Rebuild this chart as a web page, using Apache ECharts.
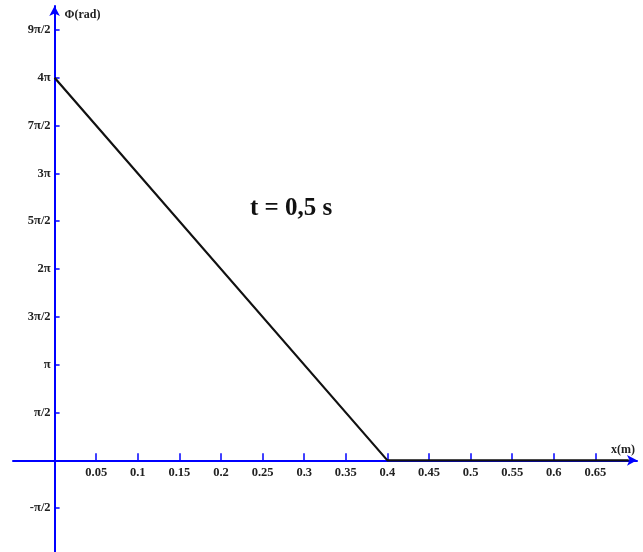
<!DOCTYPE html>
<html>
<head>
<meta charset="utf-8">
<script src="https://cdn.jsdelivr.net/npm/echarts@6/dist/echarts.min.js"></script>
<style>html,body{margin:0;padding:0;background:#fff}#c{width:643px;height:552px}</style>
</head>
<body>
<div id="c"></div>
<script>
// Data
var xValues = [0, 0.4, 0.69];          // x (m)
var phiInPi = [4, 0, 0];                // Φ in units of π
var xTicks = [0.05, 0.1, 0.15, 0.2, 0.25, 0.3, 0.35, 0.4, 0.45, 0.5, 0.55, 0.6, 0.65];
var xTickLabels = ['0.05','0.1','0.15','0.2','0.25','0.3','0.35','0.4','0.45','0.5','0.55','0.6','0.65'];
var yTicksHalfPi = [-1, 1, 2, 3, 4, 5, 6, 7, 8, 9];
var yTickLabels = ['-π/2','π/2','π','3π/2','2π','5π/2','3π','7π/2','4π','9π/2'];
var annotation = 't = 0,5 s';

var HALF = Math.PI / 2;
var yTickValues = yTicksHalfPi.map(function (k) { return k * HALF; });
var lineData = xValues.map(function (x, i) { return [x, phiInPi[i] * Math.PI]; });

// layout
var W = 643, H = 552;
var gL = 13, gR = 6, gT = 6, gB = -4;
var xMin = -0.05, xMax = 0.7, yMin = -Math.PI, yMax = 4.75 * Math.PI;
var gW = W - gL - gR, gH = H - gT - gB;
var yAxisOffset = -(0 - xMin) / (xMax - xMin) * gW;
var xAxisOffset = -(0 - yMin) / (yMax - yMin) * gH;

var blue = '#0000ff';
var labelFont = {fontFamily: '"Liberation Serif", "Times New Roman", serif', fontWeight: 'bold', fontSize: 12.5, color: '#222'};

var chart = echarts.init(document.getElementById('c'), null, {renderer: 'canvas'});
chart.setOption({
  animation: false,
  backgroundColor: '#fff',
  grid: {left: gL, right: gR, top: gT, bottom: gB, containLabel: false, outerBoundsMode: 'none'},
  xAxis: {
    type: 'value', min: xMin, max: xMax, position: 'bottom', offset: xAxisOffset,
    name: 'x(m)', nameLocation: 'end', nameGap: -2,
    nameTextStyle: {fontFamily: labelFont.fontFamily, fontWeight: 'bold', fontSize: 12, color: '#222', align: 'right', verticalAlign: 'bottom', padding: [0, 0, 4, 0]},
    axisLine: {onZero: false, lineStyle: {color: blue, width: 2}, symbol: ['none', 'arrow'], symbolSize: [8, 10]},
    axisTick: {show: true, inside: true, length: 7, lineStyle: {color: blue, width: 1.5}, customValues: xTicks},
    axisLabel: Object.assign({margin: 6, customValues: xTicks, formatter: function (v) {
      var i = xTicks.findIndex(function (t) { return Math.abs(t - v) < 1e-6; });
      return i >= 0 ? xTickLabels[i] : '';
    }}, labelFont),
    splitLine: {show: false}
  },
  yAxis: {
    type: 'value', min: yMin, max: yMax, interval: HALF, position: 'left', offset: yAxisOffset,
    name: 'Φ(rad)', nameLocation: 'end', nameGap: -9,
    nameTextStyle: {fontFamily: labelFont.fontFamily, fontWeight: 'bold', fontSize: 12, color: '#222', align: 'left', verticalAlign: 'middle', padding: [0, 0, 0, 10]},
    axisLine: {onZero: false, lineStyle: {color: blue, width: 2}, symbol: ['none', 'arrow'], symbolSize: [8, 10]},
    axisTick: {show: true, inside: true, length: 5, lineStyle: {color: blue, width: 1.5}, customValues: yTickValues},
    axisLabel: Object.assign({margin: 4, customValues: yTickValues, formatter: function (v) {
      var k = Math.round(v / HALF);
      var i = yTicksHalfPi.indexOf(k);
      return i >= 0 ? yTickLabels[i] : '';
    }}, labelFont),
    splitLine: {show: false}
  },
  graphic: [{
    type: 'text', left: 250, top: 196,
    style: {text: annotation, fontFamily: labelFont.fontFamily, fontWeight: 'bold', fontSize: 25, fill: '#111'}
  }],
  series: [{
    type: 'line', data: lineData, showSymbol: false, symbol: 'none',
    lineStyle: {color: '#111', width: 2.2}, z: 5
  }]
});
</script>
</body>
</html>
